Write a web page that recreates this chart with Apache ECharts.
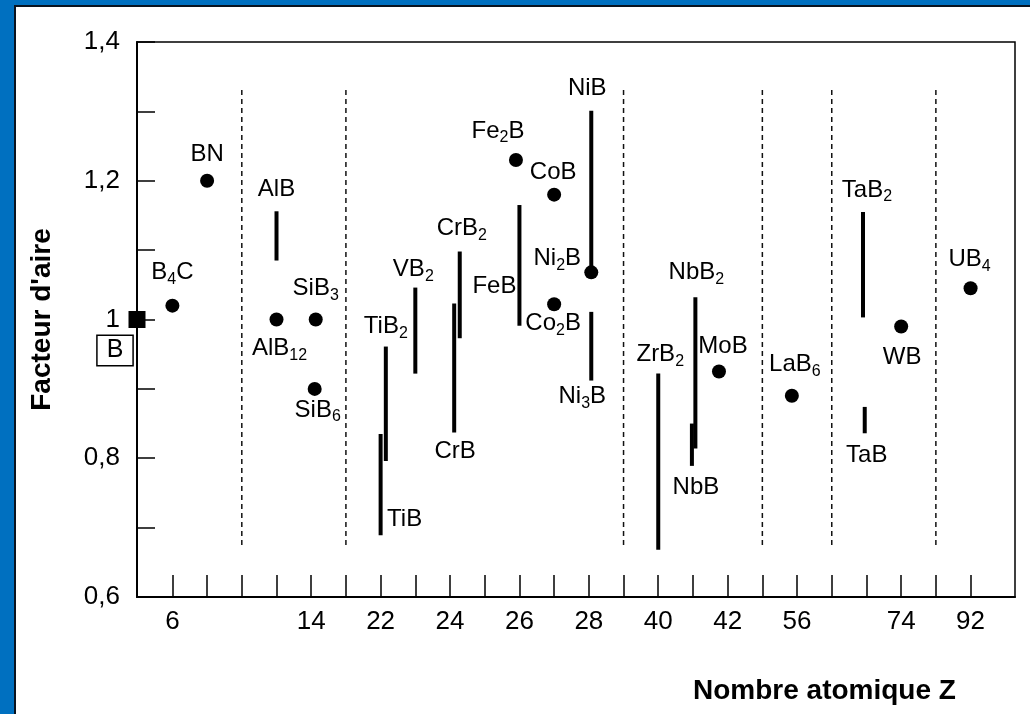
<!DOCTYPE html>
<html><head><meta charset="utf-8">
<script src="https://cdn.jsdelivr.net/npm/echarts@6/dist/echarts.min.js"></script>
<style>html,body{margin:0;padding:0;background:#fff}#c{width:1030px;height:714px}</style>
</head><body><div id="c"></div>
<script>
const FONT = '"Liberation Sans", Arial, Helvetica, sans-serif';

// ---- axis ticks / labels (x axis = position index of the element) ----
const xTickIndex = [0,1,2,3,4,5,6,7,8,9,10,11,12,13,14,15,16,17,18,19,20,21,22,23];
const xLabelIndex = [0,4,6,8,10,12,14,16,18,21,23];
const xLabelText  = ['6','14','22','24','26','28','40','42','56','74','92'];
const yLabelValue = [0.6,0.8,1.0,1.2,1.4];
const yLabelText  = ['0,6','0,8','1','1,2','1,4'];

// ---- single-value compounds (dots) ----
const dotNames = ['BN','B4C','AlB12','SiB3','SiB6','Fe2B','CoB','Ni2B','Co2B','MoB','LaB6','WB','UB4'];
const dotX     = [1, 0, 3, 4.13, 4.1, 9.9, 11, 12.07, 11, 15.75, 17.85, 21, 23];
const dotY     = [1.20, 1.02, 1.00, 1.00, 0.90, 1.23, 1.18, 1.068, 1.022, 0.925, 0.89, 0.99, 1.045];

// ---- range compounds (bars) ----
const barNames = ['AlB','TiB','TiB2','VB2','CrB','CrB2','FeB','NiB','Ni3B','ZrB2','NbB2','NbB','TaB2','TaB'];
const barX     = [3, 6.0, 6.15, 7, 8.12, 8.28, 10, 12.07, 12.07, 14, 15.07, 14.97, 19.9, 19.95];
const barLow   = [1.085, 0.689, 0.796, 0.922, 0.837, 0.973, 0.991, 1.068, 0.912, 0.668, 0.814, 0.789, 1.003, 0.836];
const barHigh  = [1.156, 0.835, 0.961, 1.046, 1.023, 1.098, 1.165, 1.301, 1.011, 0.922, 1.032, 0.850, 1.155, 0.874];

// ---- group separators (dashed) ----
const separatorX = [2, 5, 13, 17, 19, 22];
const separatorSpan = [0.675, 1.335];

// ---- reference element ----
const xMin = -1.02, xMax = 24.28;
const refName = 'B';
const refX = xMin, refY = 1.0;

// ---- label placement (pixel offsets, style only) ----
const dotLabelOffset = {BN:[0,-26], B4C:[0,-33], AlB12:[3,29], SiB3:[0,-31], SiB6:[3,21], Fe2B:[-18,-29],
  CoB:[-1,-22], Ni2B:[-34,-14], Co2B:[-1,19], MoB:[4,-25], LaB6:[3,-31], WB:[1,31], UB4:[-1,-29]};
const barLabelAnchor = {AlB:['high',0,-22], TiB:['low',24,-16], TiB2:['high',0,-20], VB2:['high',-2,-18],
  CrB:['low',1,19], CrB2:['high',2,-23], FeB:['high',-25,81], NiB:['high',-4,-22], Ni3B:['low',-9,16],
  ZrB2:['high',2,-19], NbB2:['high',1,-25], NbB:['low',4,21], TaB2:['high',4,-22], TaB:['low',2,22]};

const richStyles = {
  m: {fontSize: 24, fontFamily: FONT, color: '#000', lineHeight: 30},
  s: {fontSize: 16, fontFamily: FONT, color: '#000', lineHeight: 16, verticalAlign: 'bottom', padding: [13,0,0,0]}
};
function richName(name){
  return name.replace(/(\d+)|(\D+)/g, (m, d, t) => d ? '{s|' + d + '}' : '{m|' + t + '}');
}

const chart = echarts.init(document.getElementById('c'), null, {renderer: 'canvas'});
const option = {
  animation: false,
  backgroundColor: '#fff',
  grid: {left: 137, right: 15, top: 42, bottom: 117, show: true, borderColor: '#000', borderWidth: 1.5, backgroundColor: 'transparent'},
  xAxis: {
    type: 'value', min: xMin, max: xMax,
    axisLine: {show: true, onZero: false, lineStyle: {color: '#000', width: 2}},
    axisTick: {show: true, inside: true, length: 22, lineStyle: {color: '#000', width: 1.5}, customValues: xTickIndex},
    axisLabel: {customValues: xLabelIndex, margin: 12, fontSize: 26, fontFamily: FONT, color: '#000',
      formatter: v => { const i = xLabelIndex.indexOf(Math.round(v)); return i >= 0 ? xLabelText[i] : ''; }},
    splitLine: {show: false}
  },
  yAxis: {
    type: 'value', min: 0.6, max: 1.4, interval: 0.1,
    axisLine: {show: true, onZero: false, lineStyle: {color: '#000', width: 2}},
    axisTick: {show: true, inside: true, length: 18, lineStyle: {color: '#000', width: 1.5}},
    axisLabel: {customValues: yLabelValue, margin: 17, fontSize: 26, fontFamily: FONT, color: '#000',
      formatter: v => { const i = yLabelValue.findIndex(t => Math.abs(t - v) < 1e-6); return i >= 0 ? yLabelText[i] : ''; }},
    splitLine: {show: false},
    name: "Facteur d'aire", nameLocation: 'middle', nameRotate: 90, nameGap: 81,
    nameTextStyle: {fontSize: 28, fontWeight: 'bold', fontFamily: FONT, color: '#000'}
  },
  graphic: [
    {type: 'rect', x: 0, y: 0, shape: {x: 0, y: 0, width: 1030, height: 5}, style: {fill: '#0070C0'}, z: 100},
    {type: 'rect', x: 0, y: 0, shape: {x: 0, y: 0, width: 14, height: 714}, style: {fill: '#0070C0'}, z: 100},
    {type: 'rect', x: 0, y: 0, shape: {x: 14, y: 5, width: 2, height: 709}, style: {fill: '#0a1420'}, z: 100},
    {type: 'rect', x: 0, y: 0, shape: {x: 14, y: 5, width: 1016, height: 2}, style: {fill: '#0a1420'}, z: 100},
    {type: 'text', x: 693, y: 677, style: {text: 'Nombre atomique Z', font: 'bold 28px ' + FONT, fill: '#000'}}
  ],
  series: [
    {
      type: 'custom', name: 'separators', silent: true,
      data: separatorX.map(x => [x, separatorSpan[0], separatorSpan[1]]),
      renderItem: (params, api) => {
        const a = api.coord([api.value(0), api.value(1)]);
        const b = api.coord([api.value(0), api.value(2)]);
        return {type: 'line', shape: {x1: a[0], y1: a[1], x2: b[0], y2: b[1]},
          style: {stroke: '#111', lineWidth: 1.5, lineDash: [5, 4]}};
      }
    },
    {
      type: 'custom', name: 'ranges', silent: true,
      data: barX.map((x, i) => [x, barLow[i], barHigh[i]]),
      renderItem: (params, api) => {
        const name = barNames[params.dataIndex];
        const lo = api.coord([api.value(0), api.value(1)]);
        const hi = api.coord([api.value(0), api.value(2)]);
        const pl = barLabelAnchor[name];
        const anchor = pl[0] === 'high' ? hi : lo;
        return {type: 'group', children: [
          {type: 'line', shape: {x1: lo[0], y1: lo[1], x2: hi[0], y2: hi[1]}, style: {stroke: '#000', lineWidth: 4}},
          {type: 'text', x: anchor[0] + pl[1], y: anchor[1] + pl[2],
            style: {text: richName(name), rich: richStyles, align: 'center', verticalAlign: 'middle', fill: '#000'}}
        ]};
      }
    },
    {
      type: 'scatter', name: 'points', silent: true, symbol: 'circle', symbolSize: 14,
      itemStyle: {color: '#000', opacity: 1},
      data: dotNames.map((n, i) => ({name: n, value: [dotX[i], dotY[i]], label: {offset: dotLabelOffset[n]}})),
      label: {show: true, position: 'inside', color: '#000', opacity: 1, formatter: p => richName(p.name), rich: richStyles}
    },
    {
      type: 'scatter', name: 'reference', silent: true, clip: false, symbol: 'rect', symbolSize: 17,
      itemStyle: {color: '#000', opacity: 1}, z: 5,
      data: [{name: refName, value: [refX, refY]}],
      label: {show: true, position: 'inside', offset: [-22, 31], formatter: p => p.name,
        fontSize: 25, fontFamily: FONT, color: '#000', lineHeight: 26, padding: [2, 9, 1, 9],
        borderColor: '#000', borderWidth: 1.5, backgroundColor: '#fff'}
    }
  ]
};
chart.setOption(option);
</script>
</body></html>
